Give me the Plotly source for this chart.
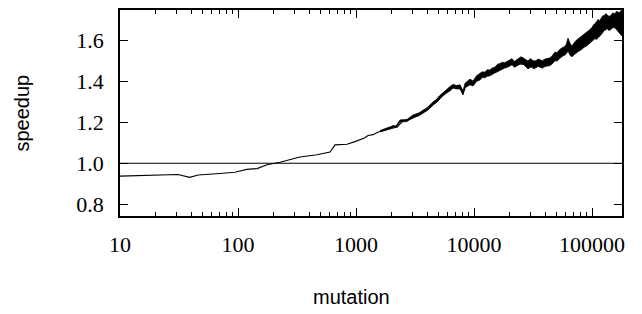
import plotly.graph_objects as go

# center line of the speedup curve
mutation = [10, 20, 31, 39, 46, 70, 94, 104, 119, 145, 176, 227, 276, 335, 467, 602, 664,
            839, 981, 1081, 1180, 1265, 1393, 1530, 1693, 1850, 2060, 2225, 2502, 2750,
            3041, 3350, 3697, 4050, 4406, 4857, 5354, 5800, 6261, 6900, 7610, 8071, 8726,
            9813, 11250, 13150, 14490, 16600, 21410, 28140, 36240, 46680, 56770, 61390,
            69000, 79100, 101900, 116900, 142200, 172700, 179600]
speedup = [0.937, 0.940, 0.945, 0.931, 0.943, 0.950, 0.956, 0.962, 0.970, 0.974, 0.993,
           1.005, 1.018, 1.031, 1.042, 1.055, 1.090, 1.093, 1.106, 1.115, 1.124, 1.136,
           1.140, 1.152, 1.160, 1.166, 1.184, 1.176, 1.208, 1.212, 1.221, 1.236, 1.248,
           1.262, 1.281, 1.305, 1.338, 1.352, 1.373, 1.379, 1.373, 1.345, 1.392, 1.390,
           1.424, 1.440, 1.447, 1.466, 1.490, 1.482, 1.490, 1.500, 1.539, 1.585, 1.530,
           1.580, 1.636, 1.668, 1.692, 1.683, 1.634]

# noise band envelope (upper / lower)
band_x = [1597, 1900, 2200, 2360, 2700, 3042, 3400, 3997, 4493, 4800, 5100, 5463, 5900,
          6250, 6637, 7100, 7608, 8069, 8400, 8900, 9250, 9800, 10500, 11240, 11800,
          12300, 13000, 13660, 14300, 15000, 15800, 16610, 17400, 18200, 19200, 20190,
          21000, 22000, 23000, 24000, 25000, 26020, 27300, 28680, 30000, 31000, 32200,
          33500, 35000, 36250, 38000, 40000, 42000, 44070, 46300, 48590, 50200, 52000,
          54500, 56800, 58600, 60500, 61600, 62590, 63800, 65000, 66300, 67700, 70000,
          72000, 74500, 77000, 79500, 82300, 86000, 90000, 95000, 100000, 103000, 106000,
          109000, 112400, 116000, 120000, 123500, 127000, 130500, 134000, 139000, 145000,
          150000, 156600, 160500, 165000, 169000, 172800, 176000, 179600]
band_hi = [1.160, 1.176, 1.185, 1.212, 1.214, 1.236, 1.246, 1.272, 1.300, 1.312, 1.330,
           1.346, 1.362, 1.374, 1.386, 1.380, 1.384, 1.354, 1.392, 1.402, 1.412, 1.402,
           1.428, 1.440, 1.448, 1.446, 1.458, 1.456, 1.466, 1.470, 1.484, 1.488, 1.494,
           1.492, 1.500, 1.504, 1.512, 1.498, 1.506, 1.510, 1.521, 1.516, 1.510, 1.500,
           1.512, 1.508, 1.500, 1.502, 1.510, 1.506, 1.502, 1.510, 1.514, 1.516, 1.528,
           1.544, 1.541, 1.550, 1.562, 1.566, 1.572, 1.580, 1.598, 1.612, 1.600, 1.588,
           1.578, 1.575, 1.590, 1.596, 1.604, 1.610, 1.620, 1.626, 1.632, 1.640, 1.652,
           1.664, 1.678, 1.682, 1.694, 1.704, 1.698, 1.712, 1.722, 1.722, 1.732, 1.728,
           1.718, 1.724, 1.736, 1.730, 1.742, 1.742, 1.736, 1.740, 1.748, 1.745]
band_lo = [1.154, 1.168, 1.176, 1.202, 1.204, 1.224, 1.232, 1.258, 1.287, 1.296, 1.312,
           1.330, 1.345, 1.354, 1.368, 1.364, 1.364, 1.334, 1.370, 1.380, 1.384, 1.378,
           1.400, 1.408, 1.420, 1.418, 1.426, 1.428, 1.436, 1.442, 1.448, 1.455, 1.462,
           1.466, 1.470, 1.476, 1.482, 1.470, 1.476, 1.480, 1.488, 1.486, 1.472, 1.462,
           1.470, 1.470, 1.462, 1.466, 1.474, 1.470, 1.466, 1.474, 1.476, 1.478, 1.488,
           1.502, 1.500, 1.508, 1.518, 1.526, 1.528, 1.535, 1.542, 1.550, 1.538, 1.530,
           1.524, 1.522, 1.530, 1.536, 1.544, 1.548, 1.552, 1.560, 1.568, 1.574, 1.586,
           1.598, 1.604, 1.610, 1.606, 1.612, 1.622, 1.630, 1.644, 1.650, 1.652, 1.660,
           1.650, 1.655, 1.664, 1.662, 1.656, 1.648, 1.640, 1.636, 1.630, 1.622]

ref_value = 1.0
x_ticks = [10, 100, 1000, 10000, 100000]
x_tick_labels = ["10", "100", "1000", "10000", "100000"]
x_minor_ticks = [20, 30, 40, 50, 60, 70, 80, 90,
                 200, 300, 400, 500, 600, 700, 800, 900,
                 2000, 3000, 4000, 5000, 6000, 7000, 8000, 9000,
                 20000, 30000, 40000, 50000, 60000, 70000, 80000, 90000]
y_ticks = [0.8, 1.0, 1.2, 1.4, 1.6]
y_tick_labels = ["0.8", "1.0", "1.2", "1.4", "1.6"]

X_RANGE = [1, 5.2542]

fig = go.Figure()
fig.add_trace(go.Scatter(x=band_x, y=band_hi, mode="lines", line=dict(color="black", width=0.8),
                         showlegend=False, hoverinfo="skip"))
fig.add_trace(go.Scatter(x=band_x, y=band_lo, mode="lines", line=dict(color="black", width=0.8),
                         fill="tonexty", fillcolor="black", showlegend=False, hoverinfo="skip"))
# center line drawn on the overlaid log axis (same range) that carries the minor ticks
fig.add_trace(go.Scatter(x=mutation, y=speedup, mode="lines", xaxis="x2",
                         line=dict(color="black", width=1.1), showlegend=False))
fig.add_hline(y=ref_value, line=dict(color="black", width=1.2))

tickfont = dict(family="Liberation Serif", size=22, color="black")
fig.update_layout(
    width=642, height=314,
    margin=dict(l=112, r=28, t=0, b=106),
    plot_bgcolor="white", paper_bgcolor="white",
    xaxis=dict(type="log", range=X_RANGE, tickvals=x_ticks, ticktext=x_tick_labels,
               ticks="inside", ticklen=8, tickwidth=1, tickcolor="black",
               showline=True, linecolor="black", linewidth=1.5, mirror="ticks",
               showgrid=False, zeroline=False, tickfont=tickfont, ticklabelstandoff=8),
    xaxis2=dict(type="log", range=X_RANGE, overlaying="x", side="bottom",
                tickvals=x_minor_ticks, showticklabels=False,
                ticks="inside", ticklen=4, tickwidth=1, tickcolor="black",
                showline=False, mirror="ticks", showgrid=False, zeroline=False),
    yaxis=dict(range=[0.742, 1.75], tickvals=y_ticks, ticktext=y_tick_labels,
               ticks="inside", ticklen=8, tickwidth=1, tickcolor="black",
               showline=True, linecolor="black", linewidth=1.5, mirror="ticks",
               showgrid=False, zeroline=False, tickfont=tickfont, ticklabelstandoff=10),
    annotations=[
        dict(text="mutation", xref="paper", yref="paper", x=0.462, y=-0.394,
             showarrow=False, font=dict(family="Liberation Sans", size=20, color="black"),
             xanchor="center", yanchor="middle"),
        dict(text="speedup", xref="paper", yref="paper", x=-0.196, y=0.5, textangle=-90,
             showarrow=False, font=dict(family="Liberation Sans", size=20, color="black"),
             xanchor="center", yanchor="middle"),
    ],
)
fig.write_html("out.html")
